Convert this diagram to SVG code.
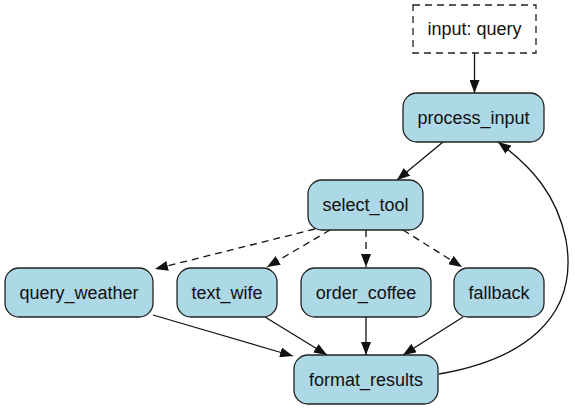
<svg xmlns="http://www.w3.org/2000/svg" width="575" height="409" viewBox="0 0 575 409">
<defs>
<style>
.node rect{fill:#add8e6;stroke:#222;stroke-width:1.3}
.inp rect{fill:#fff;stroke:#222;stroke-width:1.3;stroke-dasharray:7,5}
text{font-family:"Liberation Sans",Arial,sans-serif;font-size:18px;fill:#111;text-anchor:middle}
.e{fill:none;stroke:#111;stroke-width:1.3;marker-end:url(#ah)}
.d{stroke-dasharray:7,5}
</style>
<marker id="ah" markerUnits="userSpaceOnUse" viewBox="0 0 13 10" markerWidth="13" markerHeight="10" refX="13" refY="5" orient="auto">
<path d="M0,0 L13,5 L0,10 z" fill="#111"/>
</marker>
</defs>
<g id="connectors">
<path class="e" d="M474.5,53 L474.5,93"/>
<path class="e" d="M443,142 L397,180"/>
<path class="e d" d="M315,229 L155,269"/>
<path class="e d" d="M330,230 L267,267"/>
<path class="e d" d="M366,230 L366,267"/>
<path class="e d" d="M403,230 L462,267"/>
<path class="e" d="M153,315 L293,356"/>
<path class="e" d="M265,317 L327,355"/>
<path class="e" d="M366,317 L366,355"/>
<path class="e" d="M463,317 L403,355"/>
<path class="e" d="M439,374 C520,360 580,320 566,240 C557,195 532,167 498,142"/>
</g>
<g id="input_query" class="inp"><rect x="413" y="5" width="123" height="48"/><text x="474.5" y="35">input: query</text></g>
<g id="process_input" class="node"><rect x="403" y="93" width="141" height="49" rx="14"/><text x="473.5" y="124">process_input</text></g>
<g id="select_tool" class="node"><rect x="308" y="180" width="115" height="50" rx="14"/><text x="365.5" y="211">select_tool</text></g>
<g id="query_weather" class="node"><rect x="5" y="268" width="148" height="49" rx="14"/><text x="79" y="299">query_weather</text></g>
<g id="text_wife" class="node"><rect x="177" y="268" width="100" height="49" rx="14"/><text x="227" y="299">text_wife</text></g>
<g id="order_coffee" class="node"><rect x="301" y="268" width="130" height="49" rx="14"/><text x="366" y="299">order_coffee</text></g>
<g id="fallback" class="node"><rect x="454" y="268" width="90" height="49" rx="14"/><text x="499" y="299">fallback</text></g>
<g id="format_results" class="node"><rect x="294" y="355" width="144" height="49" rx="14"/><text x="366" y="386">format_results</text></g>
</svg>
